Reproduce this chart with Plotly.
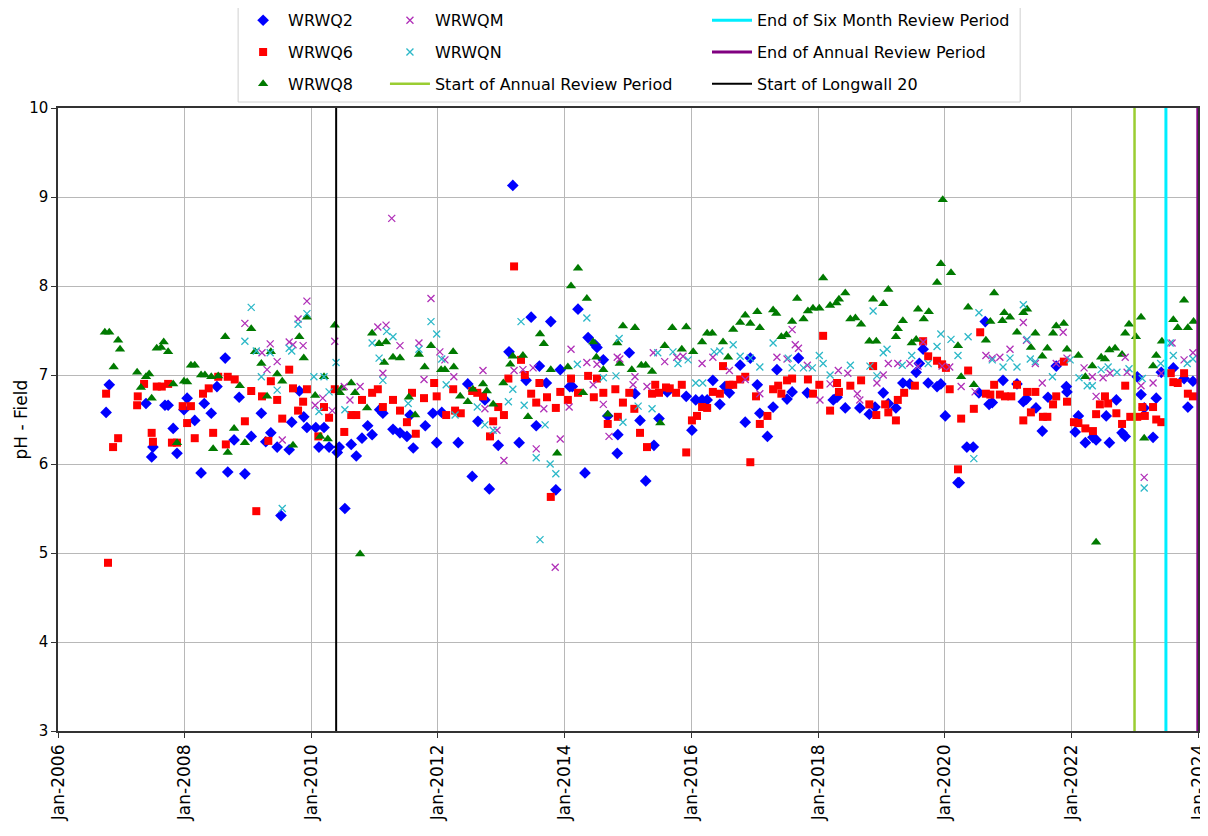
import pandas as pd
import plotly.graph_objects as go

# ---------------- data (decimal year, pH) ----------------
q2_t = [2006.76, 2006.81, 2007.39, 2007.48, 2007.50, 2007.69, 2007.74, 2007.82, 2007.88, 2007.99, 2008.04, 2008.16, 2008.26, 2008.31, 2008.42, 2008.51, 2008.64, 2008.68, 2008.78, 2008.86, 2008.95, 2009.05, 2009.21, 2009.28, 2009.36, 2009.46, 2009.52, 2009.65, 2009.69, 2009.81, 2009.88, 2009.93, 2010.07, 2010.12, 2010.20, 2010.28, 2010.41, 2010.44, 2010.53, 2010.63, 2010.71, 2010.80, 2010.89, 2010.96, 2011.08, 2011.13, 2011.29, 2011.40, 2011.51, 2011.56, 2011.61, 2011.80, 2011.92, 2011.98, 2012.06, 2012.32, 2012.47, 2012.54, 2012.63, 2012.74, 2012.81, 2012.95, 2013.12, 2013.18, 2013.28, 2013.39, 2013.47, 2013.55, 2013.60, 2013.71, 2013.78, 2013.86, 2013.93, 2014.08, 2014.12, 2014.21, 2014.32, 2014.37, 2014.48, 2014.51, 2014.61, 2014.68, 2014.83, 2014.84, 2015.02, 2015.11, 2015.19, 2015.28, 2015.41, 2015.49, 2015.62, 2015.92, 2016.01, 2016.07, 2016.17, 2016.25, 2016.34, 2016.45, 2016.53, 2016.60, 2016.77, 2016.85, 2016.93, 2017.04, 2017.08, 2017.20, 2017.29, 2017.35, 2017.51, 2017.59, 2017.69, 2017.83, 2018.24, 2018.30, 2018.43, 2018.66, 2018.81, 2018.90, 2019.03, 2019.11, 2019.23, 2019.34, 2019.45, 2019.55, 2019.60, 2019.66, 2019.74, 2019.88, 2019.94, 2020.01, 2020.21, 2020.23, 2020.35, 2020.45, 2020.54, 2020.64, 2020.70, 2020.75, 2020.92, 2021.14, 2021.24, 2021.29, 2021.44, 2021.54, 2021.63, 2021.76, 2021.92, 2021.93, 2022.06, 2022.11, 2022.22, 2022.34, 2022.39, 2022.55, 2022.60, 2022.71, 2022.80, 2022.85, 2023.04, 2023.10, 2023.15, 2023.29, 2023.34, 2023.42, 2023.61, 2023.78, 2023.84, 2023.92]
q2_v = [6.58, 6.89, 6.68, 6.08, 6.19, 6.66, 6.66, 6.40, 6.12, 6.61, 6.74, 6.49, 5.90, 6.68, 6.57, 6.87, 7.19, 5.91, 6.27, 6.75, 5.89, 6.31, 6.57, 6.25, 6.35, 6.19, 5.42, 6.16, 6.47, 6.82, 6.53, 6.41, 6.41, 6.19, 6.41, 6.19, 6.13, 6.19, 5.50, 6.22, 6.09, 6.29, 6.43, 6.33, 6.61, 6.57, 6.39, 6.35, 6.31, 6.55, 6.18, 6.43, 6.57, 6.24, 6.58, 6.24, 6.90, 5.86, 6.48, 6.72, 5.72, 6.21, 7.26, 9.13, 6.24, 6.94, 7.65, 6.43, 7.10, 6.91, 7.60, 5.71, 7.06, 6.87, 6.87, 7.74, 5.90, 7.42, 7.34, 7.31, 7.17, 6.54, 6.12, 6.33, 7.25, 6.79, 6.49, 5.81, 6.21, 6.51, 6.81, 6.76, 6.38, 6.72, 6.72, 6.72, 6.94, 6.67, 6.87, 6.80, 7.11, 6.47, 7.19, 6.89, 6.57, 6.31, 6.64, 7.06, 6.73, 6.81, 7.19, 6.80, 6.72, 6.75, 6.63, 6.63, 6.56, 6.64, 6.80, 6.68, 6.63, 6.91, 6.90, 7.03, 7.13, 7.29, 6.91, 6.87, 6.90, 6.54, 5.79, 5.79, 6.19, 6.19, 6.80, 7.60, 6.67, 6.69, 6.94, 6.90, 6.70, 6.73, 6.63, 6.37, 6.75, 7.10, 6.87, 6.81, 6.36, 6.54, 6.24, 6.30, 6.27, 6.54, 6.24, 6.72, 6.35, 6.31, 6.98, 6.78, 6.63, 6.30, 6.74, 7.03, 7.08, 6.96, 6.64, 6.93]

q6_t = [2006.76, 2006.79, 2006.87, 2006.95, 2007.25, 2007.26, 2007.36, 2007.48, 2007.50, 2007.56, 2007.64, 2007.74, 2007.80, 2007.88, 2007.97, 2008.04, 2008.10, 2008.16, 2008.29, 2008.38, 2008.45, 2008.53, 2008.65, 2008.68, 2008.79, 2008.95, 2009.05, 2009.13, 2009.22, 2009.32, 2009.36, 2009.46, 2009.54, 2009.65, 2009.71, 2009.79, 2009.87, 2009.93, 2010.11, 2010.20, 2010.28, 2010.37, 2010.52, 2010.63, 2010.71, 2010.80, 2010.96, 2011.05, 2011.13, 2011.29, 2011.40, 2011.51, 2011.59, 2011.65, 2011.78, 2011.94, 2011.98, 2012.13, 2012.24, 2012.27, 2012.36, 2012.54, 2012.62, 2012.71, 2012.82, 2012.87, 2012.95, 2013.04, 2013.11, 2013.20, 2013.31, 2013.37, 2013.47, 2013.55, 2013.60, 2013.72, 2013.78, 2013.86, 2013.93, 2014.05, 2014.10, 2014.21, 2014.37, 2014.46, 2014.51, 2014.61, 2014.68, 2014.80, 2014.84, 2014.92, 2015.02, 2015.10, 2015.19, 2015.30, 2015.38, 2015.43, 2015.49, 2015.60, 2015.66, 2015.76, 2015.85, 2015.92, 2016.01, 2016.09, 2016.17, 2016.25, 2016.34, 2016.45, 2016.50, 2016.60, 2016.66, 2016.77, 2016.85, 2016.93, 2017.02, 2017.08, 2017.20, 2017.29, 2017.37, 2017.42, 2017.51, 2017.59, 2017.84, 2017.92, 2018.02, 2018.08, 2018.19, 2018.30, 2018.33, 2018.51, 2018.68, 2018.81, 2018.87, 2018.92, 2019.06, 2019.11, 2019.23, 2019.26, 2019.36, 2019.53, 2019.66, 2019.74, 2019.88, 2019.96, 2020.02, 2020.08, 2020.21, 2020.26, 2020.37, 2020.46, 2020.56, 2020.65, 2020.72, 2020.78, 2020.87, 2020.95, 2021.05, 2021.14, 2021.24, 2021.30, 2021.36, 2021.43, 2021.55, 2021.62, 2021.71, 2021.76, 2021.88, 2021.93, 2022.04, 2022.11, 2022.22, 2022.34, 2022.39, 2022.45, 2022.53, 2022.58, 2022.71, 2022.80, 2022.85, 2022.93, 2023.04, 2023.12, 2023.16, 2023.29, 2023.34, 2023.42, 2023.57, 2023.61, 2023.68, 2023.78, 2023.84, 2023.92]
q6_v = [6.79, 4.89, 6.19, 6.29, 6.66, 6.76, 6.90, 6.35, 6.25, 6.87, 6.87, 6.90, 6.24, 6.24, 6.65, 6.46, 6.65, 6.29, 6.79, 6.85, 6.35, 6.98, 6.22, 6.98, 6.95, 6.48, 6.82, 5.47, 6.76, 6.26, 6.93, 6.72, 6.51, 7.06, 6.85, 6.60, 6.70, 6.84, 6.31, 6.64, 6.52, 6.84, 6.36, 6.55, 6.55, 6.72, 6.80, 6.84, 6.64, 6.72, 6.60, 6.47, 6.80, 6.34, 6.74, 6.91, 6.76, 6.55, 6.84, 6.60, 6.57, 6.82, 6.80, 6.76, 6.31, 6.48, 6.64, 6.55, 6.96, 8.22, 7.17, 7.00, 6.79, 6.69, 6.91, 6.75, 5.63, 6.63, 6.81, 6.72, 6.96, 6.80, 6.99, 6.75, 6.96, 6.80, 6.45, 6.84, 6.53, 6.69, 6.80, 6.62, 6.35, 6.19, 6.79, 6.89, 6.80, 6.86, 6.85, 6.80, 6.89, 6.13, 6.49, 6.54, 6.64, 6.63, 6.81, 6.79, 7.10, 6.89, 6.89, 6.95, 6.98, 6.02, 6.76, 6.45, 6.54, 6.84, 6.88, 6.79, 6.94, 6.96, 6.95, 6.79, 6.89, 7.44, 6.60, 6.91, 6.81, 6.88, 6.94, 6.67, 7.10, 6.55, 6.67, 6.58, 6.49, 6.72, 6.80, 6.88, 7.38, 7.21, 7.16, 7.12, 7.08, 6.84, 5.94, 6.51, 7.05, 6.62, 7.48, 6.79, 6.78, 6.89, 6.78, 6.76, 6.76, 6.89, 6.49, 6.81, 6.58, 6.81, 6.53, 6.53, 6.67, 6.76, 7.15, 6.70, 6.47, 6.46, 6.40, 6.37, 6.56, 6.67, 6.76, 6.68, 6.57, 6.45, 6.88, 6.53, 6.53, 6.64, 6.54, 6.64, 6.50, 6.47, 7.02, 6.92, 6.91, 7.02, 6.79, 6.76]

q8_t = [2006.74, 2006.81, 2006.88, 2006.95, 2006.98, 2007.25, 2007.31, 2007.39, 2007.44, 2007.48, 2007.56, 2007.63, 2007.67, 2007.74, 2007.82, 2007.88, 2007.99, 2008.04, 2008.10, 2008.16, 2008.26, 2008.32, 2008.42, 2008.45, 2008.53, 2008.64, 2008.68, 2008.78, 2008.87, 2008.95, 2009.05, 2009.11, 2009.21, 2009.30, 2009.36, 2009.46, 2009.54, 2009.71, 2009.81, 2009.88, 2009.93, 2010.06, 2010.14, 2010.20, 2010.26, 2010.37, 2010.45, 2010.48, 2010.63, 2010.69, 2010.77, 2010.88, 2010.96, 2011.07, 2011.15, 2011.18, 2011.29, 2011.40, 2011.54, 2011.64, 2011.70, 2011.79, 2011.89, 2012.05, 2012.11, 2012.24, 2012.25, 2012.35, 2012.47, 2012.55, 2012.71, 2012.77, 2012.87, 2013.03, 2013.14, 2013.18, 2013.34, 2013.42, 2013.61, 2013.67, 2013.78, 2013.88, 2014.05, 2014.10, 2014.21, 2014.29, 2014.35, 2014.45, 2014.50, 2014.61, 2014.68, 2014.83, 2014.87, 2014.92, 2015.06, 2015.11, 2015.21, 2015.28, 2015.38, 2015.51, 2015.58, 2015.70, 2015.85, 2015.92, 2016.03, 2016.17, 2016.25, 2016.33, 2016.50, 2016.58, 2016.66, 2016.77, 2016.85, 2016.93, 2017.04, 2017.08, 2017.29, 2017.34, 2017.42, 2017.50, 2017.59, 2017.67, 2017.77, 2017.84, 2017.92, 2018.02, 2018.08, 2018.19, 2018.29, 2018.33, 2018.43, 2018.51, 2018.59, 2018.68, 2018.81, 2018.87, 2018.92, 2019.03, 2019.11, 2019.23, 2019.26, 2019.34, 2019.48, 2019.55, 2019.58, 2019.67, 2019.75, 2019.88, 2019.94, 2019.97, 2020.10, 2020.21, 2020.26, 2020.37, 2020.46, 2020.65, 2020.72, 2020.78, 2020.91, 2020.94, 2021.03, 2021.14, 2021.24, 2021.30, 2021.36, 2021.43, 2021.54, 2021.62, 2021.71, 2021.76, 2021.88, 2021.93, 2022.11, 2022.22, 2022.33, 2022.39, 2022.47, 2022.53, 2022.60, 2022.69, 2022.80, 2022.85, 2022.91, 2023.02, 2023.10, 2023.15, 2023.29, 2023.34, 2023.43, 2023.61, 2023.68, 2023.78, 2023.84, 2023.93]
q8_v = [7.48, 7.48, 7.09, 7.39, 7.29, 7.03, 6.86, 6.98, 7.01, 6.74, 7.30, 7.31, 7.37, 7.26, 6.90, 6.24, 6.93, 6.92, 7.11, 7.11, 7.00, 7.00, 6.98, 6.17, 6.99, 7.43, 6.13, 6.40, 6.88, 6.24, 7.52, 7.26, 7.13, 6.76, 7.26, 7.01, 6.93, 6.21, 7.43, 7.19, 7.65, 6.77, 6.31, 6.98, 6.28, 7.56, 6.80, 6.85, 6.91, 6.80, 4.99, 6.63, 7.47, 7.35, 7.14, 7.37, 7.20, 7.19, 6.75, 6.55, 7.23, 7.09, 7.33, 7.06, 7.06, 7.26, 7.09, 6.76, 6.70, 6.84, 6.90, 6.82, 6.67, 6.91, 7.12, 7.21, 7.22, 6.53, 7.46, 7.35, 7.06, 6.12, 7.09, 8.00, 8.20, 6.80, 7.86, 7.37, 7.20, 7.06, 6.56, 7.36, 7.13, 7.55, 7.06, 7.53, 7.11, 7.11, 7.04, 6.46, 7.33, 7.53, 7.29, 7.54, 7.26, 7.37, 7.47, 7.47, 7.37, 7.20, 7.51, 7.59, 7.67, 7.58, 7.71, 7.53, 7.73, 7.69, 7.43, 7.45, 7.60, 7.86, 7.63, 7.72, 7.75, 7.75, 8.09, 7.78, 7.81, 7.85, 7.92, 7.63, 7.64, 7.57, 7.38, 7.85, 7.38, 7.80, 7.96, 7.43, 7.52, 7.61, 7.36, 7.40, 7.74, 7.63, 7.71, 8.04, 8.25, 8.97, 8.15, 7.33, 6.98, 7.76, 6.89, 7.39, 7.60, 7.92, 7.61, 7.70, 7.65, 7.48, 7.70, 7.74, 7.31, 7.47, 7.21, 7.30, 7.47, 7.55, 7.58, 7.29, 7.22, 6.98, 7.10, 5.12, 7.20, 7.18, 7.28, 7.30, 7.23, 7.47, 7.57, 7.43, 7.65, 6.29, 7.10, 7.22, 7.38, 7.62, 7.53, 7.84, 7.53, 7.60]

qm_t = [2008.95, 2009.22, 2009.30, 2009.35, 2009.46, 2009.54, 2009.65, 2009.71, 2009.79, 2009.87, 2009.93, 2010.06, 2010.18, 2010.33, 2010.37, 2010.52, 2010.61, 2010.77, 2011.05, 2011.13, 2011.18, 2011.27, 2011.40, 2011.70, 2011.78, 2011.89, 2012.03, 2012.11, 2012.25, 2012.71, 2012.74, 2012.93, 2013.04, 2013.20, 2013.34, 2013.50, 2013.55, 2013.67, 2013.85, 2013.93, 2014.07, 2014.10, 2014.35, 2014.45, 2014.51, 2014.61, 2014.70, 2014.83, 2014.87, 2015.08, 2015.11, 2015.30, 2015.40, 2015.58, 2015.77, 2015.87, 2016.17, 2016.34, 2016.60, 2016.85, 2017.08, 2017.35, 2017.51, 2017.59, 2017.64, 2017.69, 2017.83, 2018.03, 2018.19, 2018.32, 2018.47, 2018.62, 2018.66, 2018.93, 2019.03, 2019.11, 2019.26, 2019.45, 2019.58, 2019.66, 2019.96, 2020.08, 2020.26, 2020.48, 2020.65, 2020.75, 2020.87, 2021.03, 2021.24, 2021.29, 2021.43, 2021.54, 2021.76, 2021.87, 2021.93, 2022.20, 2022.33, 2022.39, 2022.50, 2022.61, 2022.85, 2022.88, 2023.10, 2023.15, 2023.29, 2023.42, 2023.59, 2023.78, 2023.92]
qm_v = [7.58, 7.25, 7.06, 7.35, 7.15, 6.27, 7.37, 7.34, 7.63, 7.33, 7.83, 6.66, 6.74, 6.60, 7.38, 6.87, 6.72, 6.87, 7.54, 7.02, 7.56, 8.76, 7.33, 7.36, 6.95, 7.86, 7.26, 7.17, 6.98, 7.05, 6.62, 6.38, 6.04, 7.05, 7.06, 7.08, 6.17, 6.62, 4.84, 6.28, 6.64, 7.29, 7.14, 6.89, 7.12, 6.67, 6.31, 7.20, 7.18, 6.89, 6.98, 6.87, 7.25, 7.15, 7.20, 7.21, 7.13, 7.20, 7.05, 6.95, 6.79, 7.20, 7.18, 7.51, 7.34, 7.30, 7.11, 6.72, 6.90, 7.05, 7.02, 6.79, 6.72, 6.91, 7.00, 7.13, 7.13, 7.13, 7.10, 7.37, 7.10, 7.09, 6.87, 6.81, 7.22, 7.19, 7.20, 7.29, 7.59, 7.39, 7.13, 6.91, 7.13, 7.48, 7.19, 7.08, 6.98, 6.76, 6.97, 7.02, 7.20, 7.03, 6.88, 5.85, 6.91, 7.02, 7.36, 7.17, 7.25]

qn_t = [2008.95, 2009.05, 2009.13, 2009.21, 2009.35, 2009.46, 2009.54, 2009.65, 2009.69, 2009.79, 2009.93, 2010.04, 2010.12, 2010.20, 2010.28, 2010.39, 2010.53, 2010.96, 2011.07, 2011.13, 2011.19, 2011.29, 2011.53, 2011.70, 2011.89, 2011.98, 2012.06, 2012.13, 2012.27, 2012.62, 2012.74, 2012.87, 2013.11, 2013.18, 2013.31, 2013.36, 2013.55, 2013.61, 2013.69, 2013.77, 2013.86, 2014.20, 2014.35, 2014.61, 2014.81, 2014.86, 2014.92, 2015.16, 2015.38, 2015.47, 2015.71, 2015.79, 2015.95, 2016.07, 2016.18, 2016.36, 2016.45, 2016.66, 2016.77, 2016.93, 2017.08, 2017.29, 2017.53, 2017.59, 2017.77, 2017.91, 2018.02, 2018.08, 2018.19, 2018.51, 2018.82, 2018.87, 2018.93, 2019.03, 2019.09, 2019.33, 2019.48, 2019.74, 2019.88, 2019.94, 2020.10, 2020.21, 2020.37, 2020.46, 2020.54, 2020.75, 2020.92, 2021.03, 2021.14, 2021.24, 2021.30, 2021.35, 2021.43, 2021.70, 2021.98, 2022.12, 2022.25, 2022.33, 2022.47, 2022.58, 2022.72, 2022.91, 2023.12, 2023.15, 2023.41, 2023.56, 2023.61, 2023.83, 2023.92]
qn_v = [7.38, 7.76, 7.27, 6.98, 7.25, 6.83, 5.50, 7.30, 7.27, 7.57, 7.69, 6.98, 6.59, 6.98, 6.81, 7.14, 6.61, 7.36, 7.19, 6.94, 7.49, 7.43, 6.68, 7.29, 7.60, 7.46, 7.18, 6.89, 6.55, 6.64, 6.44, 6.38, 6.70, 6.84, 7.60, 6.66, 6.07, 5.15, 6.44, 6.00, 5.89, 7.12, 7.64, 6.97, 6.99, 7.41, 6.47, 6.65, 6.62, 7.25, 7.26, 7.13, 7.17, 6.91, 6.91, 7.26, 7.27, 7.34, 7.21, 7.19, 7.09, 7.36, 7.19, 7.08, 7.08, 7.08, 7.22, 7.13, 7.00, 7.11, 7.10, 7.72, 6.99, 7.25, 7.29, 7.11, 7.22, 7.13, 7.32, 7.46, 7.40, 7.22, 7.43, 6.06, 7.70, 7.17, 7.09, 7.19, 7.09, 7.79, 7.40, 7.18, 7.15, 6.98, 7.17, 6.97, 6.88, 6.88, 7.06, 7.09, 7.03, 7.07, 6.96, 5.73, 7.13, 7.36, 7.22, 7.13, 7.18]

# reference events (dates)
event_names = ["Start of Annual Review Period", "End of Six Month Review Period",
               "End of Annual Review Period", "Start of Longwall 20"]
event_dates = ["2022-12-31", "2023-06-30", "2023-12-31", "2010-05-24"]
y_range = [3, 10]
x_range = ["2006-01-01", "2024-01-01"]
tick_dates = ["2006-01-01", "2008-01-01", "2010-01-01", "2012-01-01", "2014-01-01",
              "2016-01-01", "2018-01-01", "2020-01-01", "2022-01-01", "2024-01-01"]


def to_dates(dec_years):
    out = []
    for d in dec_years:
        yr = int(d)
        s = pd.Timestamp(yr, 1, 1)
        e = pd.Timestamp(yr + 1, 1, 1)
        out.append(s + (e - s) * (d - yr))
    return out


FONT = "DejaVu Sans"
fig = go.Figure()

series = [
    ("WRWQ2", q2_t, q2_v, dict(symbol="diamond", size=9, color="#0000ff"), "legend", 1),
    ("WRWQ6", q6_t, q6_v, dict(symbol="square", size=8, color="#ff0000"), "legend", 2),
    ("WRWQ8", q8_t, q8_v, dict(symbol="triangle-up", size=9, color="#007a00"), "legend", 3),
    ("WRWQM", qm_t, qm_v, dict(symbol="x-thin", size=7, color="#b030b8",
                               line=dict(width=1.3, color="#b030b8")), "legend2", 1),
    ("WRWQN", qn_t, qn_v, dict(symbol="x-thin", size=7, color="#2cb8c8",
                               line=dict(width=1.3, color="#2cb8c8")), "legend2", 2),
]
for name, t, v, mk, lg, rank in series:
    fig.add_trace(go.Scatter(x=to_dates(t), y=v, mode="markers", name=name,
                             marker=mk, legend=lg, legendrank=rank,
                             legendgroup=name))

line_styles = [
    ("#9acd32", 2.5, "legend2", 3),
    ("#00eeff", 3, "legend3", 1),
    ("#800080", 3, "legend3", 2),
    ("#000000", 2, "legend3", 3),
]
for name, d, (col, w, lg, rank) in zip(event_names, event_dates, line_styles):
    fig.add_trace(go.Scatter(x=[d, d], y=y_range, mode="lines", name=name,
                             line=dict(color=col, width=w), legend=lg,
                             legendrank=rank, legendgroup=name))

leg_common = dict(font=dict(family=FONT, size=16, color="black"),
                  bgcolor="rgba(0,0,0,0)", borderwidth=0, tracegroupgap=8,
                  itemwidth=40,
                  yanchor="top", xanchor="left", y=1.168, orientation="v")

# page body has an 8px margin: figure is 1200x828 so it lands on the 1208x836 view
fig.update_layout(
    width=1200, height=828,
    margin=dict(l=50, r=10, t=100, b=105, autoexpand=False),
    paper_bgcolor="white", plot_bgcolor="white",
    font=dict(family=FONT, size=15, color="black"),
    legend=dict(x=0.158, **leg_common),
    legend2=dict(x=0.2868, **leg_common),
    legend3=dict(x=0.5693, **leg_common),
    shapes=[dict(type="rect", xref="paper", yref="paper",
                 x0=0.158, x1=0.844, y0=1.0096, y1=1.170,
                 line=dict(color="#d0d0d0", width=1), fillcolor="white",
                 layer="below")],
    annotations=[dict(text="pH - Field", xref="paper", yref="paper",
                      x=-0.0325, y=0.5, textangle=-90, showarrow=False,
                      xanchor="center", yanchor="middle",
                      font=dict(family=FONT, size=17, color="black"))],
)
fig.update_xaxes(range=x_range, tickvals=tick_dates, tickformat="%b-%Y",
                 tickangle=-90, tickfont=dict(family=FONT, size=17),
                 showgrid=True, gridcolor="#b8b8b8", gridwidth=1,
                 showline=True, linecolor="#333333", linewidth=1.5, mirror=True,
                 ticks="outside", ticklen=5, tickcolor="#333333", zeroline=False)
fig.update_yaxes(range=y_range, dtick=1, tickfont=dict(family=FONT, size=15),
                 showgrid=True, gridcolor="#b8b8b8", gridwidth=1,
                 showline=True, linecolor="#333333", linewidth=1.5, mirror=True,
                 ticks="outside", ticklen=5, tickcolor="#333333", zeroline=False)

fig.write_html("out.html")
